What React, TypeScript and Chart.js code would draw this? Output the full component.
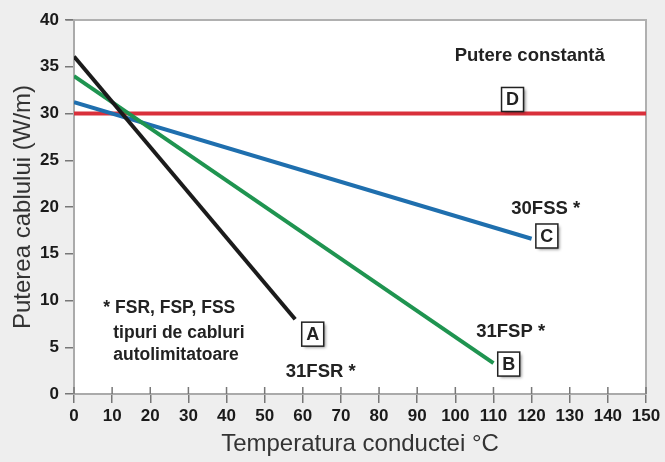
import React, { useEffect, useRef } from "react";
import { Chart, registerables } from "chart.js";

Chart.register(...registerables);

// ---- data ----
const xMin = 0;
const xMax = 150;
const xStep = 10;
const yMin = 0;
const yMax = 40;
const yStep = 5;

const tempA = [0, 58];
const powerA = [36.1, 8];
const tempB = [0, 110];
const powerB = [34.0, 3.3];
const tempC = [0, 120];
const powerC = [31.2, 16.6];
const tempD = [0, 150];
const powerD = [30, 30];

const seriesNames = ["31FSR", "31FSP", "30FSS", "Putere constantă"];
const curveLetters = ["A", "B", "C", "D"];
const curveCaptions = ["31FSR *", "31FSP *", "30FSS *", "Putere constantă"];
const noteLines = ["* FSR, FSP, FSS", "tipuri de cabluri", "autolimitatoare"];

const xTitle = "Temperatura conductei °C";
const yTitle = "Puterea cablului (W/m)";

// ---- styling / placement (data coordinates for annotations) ----
const FONT = "'Liberation Sans', Arial, Helvetica, sans-serif";
const colors = ["#1b1b1b", "#1f9450", "#1f6fae", "#d9303b"];
const boxPos = [
  [62.6, 6.4],
  [114, 3.2],
  [124, 16.9],
  [115, 31.5],
];
const captionPos = [
  [64.7, 2.35],
  [114.5, 6.6],
  [123.7, 19.8],
  [119.5, 36.2],
];
const notePos = [
  [7.7, 9.2],
  [10.3, 6.5],
  [10.3, 4.2],
];

const zip = (xs: number[], ys: number[]) => xs.map((x, i) => ({ x, y: ys[i] }));

const decorPlugin = {
  id: "decor",
  beforeDraw(chart: any) {
    const { ctx, chartArea: a, width, height } = chart;
    ctx.save();
    ctx.fillStyle = "#eeeeee";
    ctx.fillRect(0, 0, width, height);
    ctx.fillStyle = "#ffffff";
    ctx.fillRect(a.left, a.top, a.right - a.left, a.bottom - a.top);
    ctx.strokeStyle = "#b0b0b0";
    ctx.lineWidth = 2;
    ctx.beginPath();
    ctx.moveTo(a.left - 8, a.top);
    ctx.lineTo(a.right, a.top);
    ctx.lineTo(a.right, a.bottom);
    ctx.stroke();
    ctx.restore();
  },
  afterDraw(chart: any) {
    const { ctx, chartArea: a, scales } = chart;
    const xs = scales.x;
    const ys = scales.y;
    ctx.save();
    // inner x tick marks (cross style)
    ctx.strokeStyle = "#777";
    ctx.lineWidth = 1.5;
    xs.ticks.forEach((t: any) => {
      const px = xs.getPixelForValue(t.value);
      ctx.beginPath();
      ctx.moveTo(px, a.bottom);
      ctx.lineTo(px, a.bottom - 7);
      ctx.stroke();
    });

    // note text
    ctx.fillStyle = "#222";
    ctx.font = `bold 17.5px ${FONT}`;
    ctx.textAlign = "left";
    ctx.textBaseline = "middle";
    noteLines.forEach((line, i) => {
      ctx.fillText(line, xs.getPixelForValue(notePos[i][0]), ys.getPixelForValue(notePos[i][1]));
    });

    // captions
    ctx.textAlign = "center";
    ctx.font = `bold 18.5px ${FONT}`;
    curveCaptions.forEach((c, i) => {
      ctx.fillText(c, xs.getPixelForValue(captionPos[i][0]), ys.getPixelForValue(captionPos[i][1]));
    });

    // letter boxes
    curveLetters.forEach((L, i) => {
      const cx = xs.getPixelForValue(boxPos[i][0]);
      const cy = ys.getPixelForValue(boxPos[i][1]);
      const w = 22;
      const h = 24;
      ctx.save();
      ctx.shadowColor = "rgba(0,0,0,0.45)";
      ctx.shadowBlur = 3;
      ctx.shadowOffsetX = 2;
      ctx.shadowOffsetY = 2;
      ctx.fillStyle = "#ffffff";
      ctx.fillRect(cx - w / 2, cy - h / 2, w, h);
      ctx.restore();
      ctx.strokeStyle = "#222";
      ctx.lineWidth = 1.5;
      ctx.strokeRect(cx - w / 2, cy - h / 2, w, h);
      ctx.fillStyle = "#222";
      ctx.font = `bold 18px ${FONT}`;
      ctx.textAlign = "center";
      ctx.textBaseline = "middle";
      ctx.fillText(L, cx, cy + 1);
    });
    ctx.restore();
  },
};

export default function App() {
  const ref = useRef<HTMLCanvasElement | null>(null);

  useEffect(() => {
    if (!ref.current) return;
    const xsData = [tempA, tempB, tempC, tempD];
    const ysData = [powerA, powerB, powerC, powerD];
    const chart = new Chart(ref.current, {
      type: "line",
      data: {
        datasets: seriesNames.map((name, i) => ({
          label: name,
          data: zip(xsData[i], ysData[i]),
          borderColor: colors[i],
          backgroundColor: colors[i],
          borderWidth: 4,
          pointRadius: 0,
          tension: 0,
          fill: false,
          borderCapStyle: "butt" as const,
        })),
      },
      options: {
        animation: false,
        responsive: false,
        devicePixelRatio: 1,
        layout: { padding: { top: 20, right: 19, left: 0, bottom: 0 } },
        plugins: {
          legend: { display: false },
          tooltip: { enabled: false },
        },
        scales: {
          x: {
            type: "linear",
            min: xMin,
            max: xMax,
            afterFit: (s: any) => {
              s.height = 68;
            },
            ticks: {
              stepSize: xStep,
              color: "#1a1a1a",
              font: { family: FONT, size: 17, weight: "bold" },
              padding: 3,
              maxRotation: 0,
            },
            grid: {
              drawOnChartArea: false,
              drawTicks: true,
              tickLength: 9,
              color: "#777",
              lineWidth: 1.5,
            },
            border: { color: "#aaaaaa", width: 2 },
            title: {
              display: true,
              text: xTitle,
              color: "#333",
              font: { family: FONT, size: 24, weight: "normal" },
              padding: { top: 4, bottom: 3 },
            },
          },
          y: {
            type: "linear",
            min: yMin,
            max: yMax,
            afterFit: (s: any) => {
              s.width = 74;
            },
            ticks: {
              stepSize: yStep,
              color: "#1a1a1a",
              font: { family: FONT, size: 17, weight: "bold" },
              padding: 6,
            },
            grid: {
              drawOnChartArea: false,
              drawTicks: true,
              tickLength: 9,
              color: "#777",
              lineWidth: 1.5,
            },
            border: { color: "#aaaaaa", width: 2 },
            title: {
              display: true,
              text: yTitle,
              color: "#333",
              font: { family: FONT, size: 24, weight: "normal" },
              padding: { top: 9, bottom: 4 },
            },
          },
        },
      },
      plugins: [decorPlugin],
    });
    return () => chart.destroy();
  }, []);

  return (
    <div style={{ position: "fixed", left: 0, top: 0, width: 665, height: 462, background: "#eeeeee" }}>
      <canvas ref={ref} width={665} height={462} style={{ display: "block", width: 665, height: 462 }} />
    </div>
  );
}
